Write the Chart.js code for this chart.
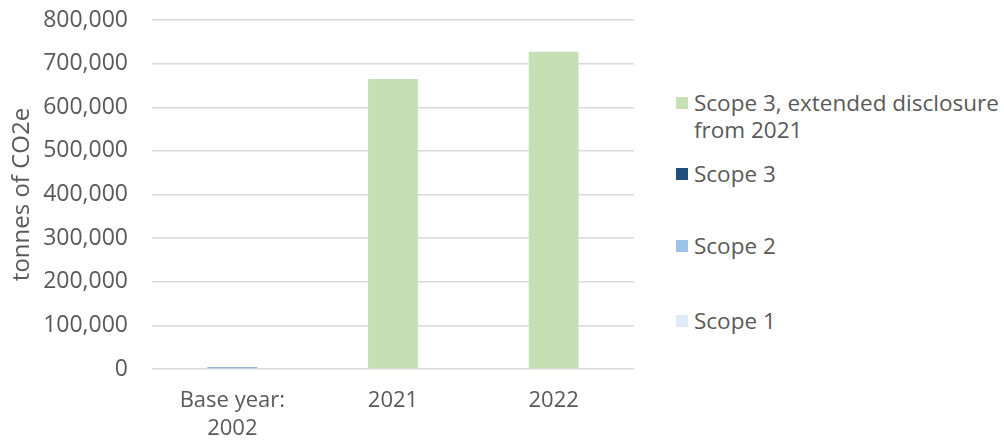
<!DOCTYPE html>
<html>
<head>
<meta charset="utf-8">
<script src="https://cdn.jsdelivr.net/npm/chart.js@4"></script>
<style>
  html, body { margin: 0; padding: 0; background: #fff; }
  body { width: 1004px; height: 441px; position: relative; overflow: hidden; font-family: 'Open Sans', sans-serif; color: #595959; }
  #wrap { position: absolute; left: 0; top: 0; width: 640px; height: 441px; }
  #legend { position: absolute; left: 676px; top: 0; list-style: none; margin: 0; padding: 0; font-size: 22.5px; line-height: 27px; }
  #legend li { position: absolute; left: 0; white-space: nowrap; padding-left: 18px; }
  #legend li span.sw { position: absolute; left: 0; top: 8px; width: 12px; height: 12px; }
</style>
</head>
<body>
<div id="wrap"><canvas id="myChart"></canvas></div>
<ul id="legend"></ul>
<script>
const categories = [['Base year:', '2002'], '2021', '2022'];
const scope1 = [1200, 0, 0];
const scope2 = [2500, 0, 0];
const scope3 = [900, 0, 0];
const scope3Extended = [0, 665000, 727000];
const yTicks = [0, 100000, 200000, 300000, 400000, 500000, 600000, 700000, 800000];

const textColor = '#595959';
const gridColor = '#d9d9d9';
const fontFamily = "'Open Sans'";

const series = [
  { label: 'Scope 1', data: scope1, color: '#deebf7' },
  { label: 'Scope 2', data: scope2, color: '#9dc3e6' },
  { label: 'Scope 3', data: scope3, color: '#1f4e79' },
  { label: 'Scope 3, extended disclosure\nfrom 2021', data: scope3Extended, color: '#c5e0b4' },
];

const ctx = document.getElementById('myChart').getContext('2d');
const chart = new Chart(ctx, {
  type: 'bar',
  data: {
    labels: categories,
    datasets: series.map((s) => ({
      label: s.label,
      data: s.data,
      backgroundColor: s.color,
      borderWidth: 0,
      barPercentage: 0.31,
      categoryPercentage: 1,
    })),
  },
  options: {
    responsive: true,
    maintainAspectRatio: false,
    animation: false,
    layout: { padding: { top: 20, right: 6, left: 8, bottom: 0 } },
    plugins: { legend: { display: false }, tooltip: { enabled: false } },
    scales: {
      x: {
        stacked: true,
        grid: { display: false, drawTicks: false },
        border: { display: false },
        ticks: { color: textColor, font: { family: fontFamily, size: 22, lineHeight: 1.25 }, padding: 18, maxRotation: 0 },
        afterFit: (scale) => {
          scale.height = 72;
          scale.paddingTop = 0;
          scale.paddingBottom = 0;
        },
      },
      y: {
        stacked: true,
        min: 0,
        max: 800000,
        afterBuildTicks: (scale) => { scale.ticks = yTicks.map((v) => ({ value: v })); },
        grid: { color: gridColor, lineWidth: 1.5, drawTicks: false },
        border: { display: false },
        ticks: {
          color: textColor,
          font: { family: fontFamily, size: 23 },
          padding: 24,
          callback: (v) => v.toLocaleString('en-US'),
        },
        title: {
          display: true,
          text: 'tonnes of CO2e',
          color: textColor,
          font: { family: fontFamily, size: 24 },
          padding: { top: 0, bottom: 0 },
        },
        afterFit: (scale) => {
          scale.width = 144;
          scale.paddingTop = 0;
          scale.paddingBottom = 0;
        },
      },
    },
  },
});

// legend on the right, top entry first
const legendTops = [89, 160, 232, 307];
const legendEl = document.getElementById('legend');
series.slice().reverse().forEach((s, i) => {
  const li = document.createElement('li');
  li.style.top = legendTops[i] + 'px';
  const sw = document.createElement('span');
  sw.className = 'sw';
  sw.style.background = s.color;
  li.appendChild(sw);
  s.label.split('\n').forEach((line, j) => {
    if (j > 0) li.appendChild(document.createElement('br'));
    li.appendChild(document.createTextNode(line));
  });
  legendEl.appendChild(li);
});
</script>
</body>
</html>
